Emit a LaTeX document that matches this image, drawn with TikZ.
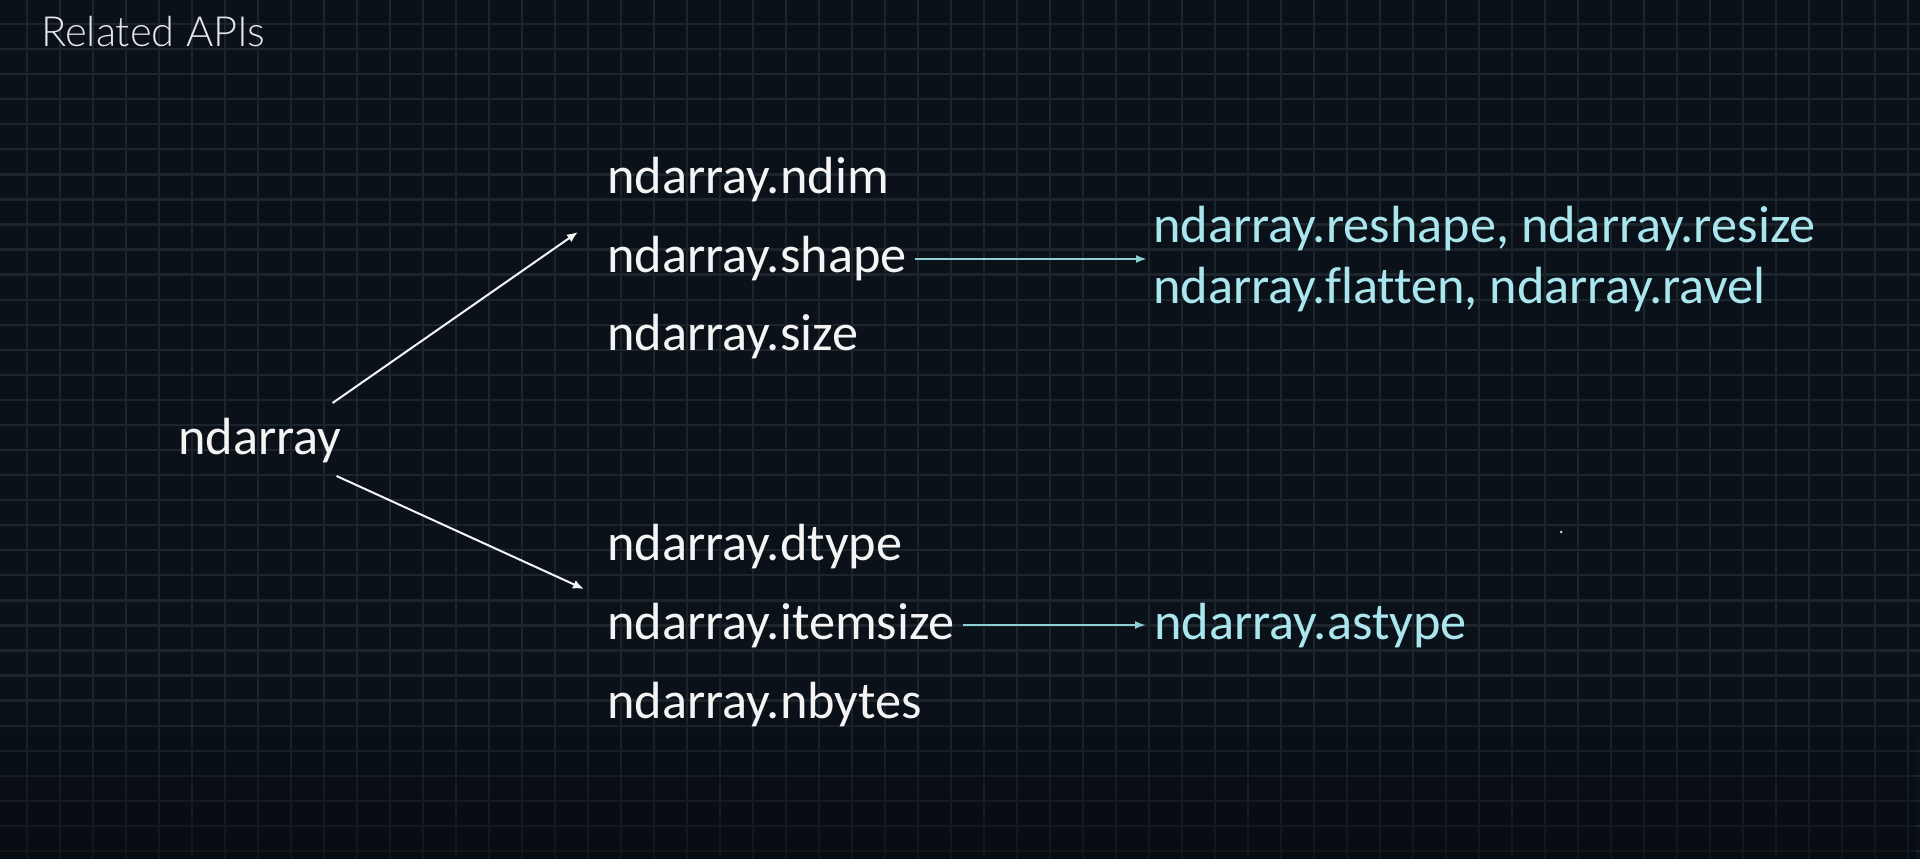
\documentclass[tikz,border=0pt]{standalone}
\usepackage{fontspec}
\setmainfont{Carlito}[Ligatures={NoCommon}]
\newfontfamily\titlefont{Lato Light}
\usetikzlibrary{arrows.meta,fadings}
\definecolor{bgtop}{HTML}{0A1118}
\definecolor{bgbot}{HTML}{04080B}
\definecolor{gridc}{HTML}{1C252C}
\definecolor{txtw}{HTML}{F4F4F4}
\definecolor{titlec}{HTML}{E6E6E6}
\definecolor{txtc}{HTML}{AAE6EE}
\definecolor{arrc}{HTML}{8CCFD6}
\tikzfading[name=fadebot, top color=transparent!100, bottom color=transparent!0]
\begin{document}
\begin{tikzpicture}[x=1pt,y=-1pt,
  lbl/.style={inner sep=0pt, anchor=base west, text=txtw, font=\fontsize{52.3}{61}\selectfont},
  rel/.style={inner sep=0pt, text=txtc, font=\fontsize{52.3}{61}\selectfont, align=left},
  warrow/.style={draw=txtw, line width=2pt, -{Latex[length=11pt,width=9pt]}},
  carrow/.style={draw=arrc, line width=2pt, -{Latex[length=11pt,width=8pt]}},
  gridline/.style={draw=gridc, line width=2.3pt}
]
\useasboundingbox (0,0) rectangle (1920,859);
\fill[bgtop] (0,0) rectangle (1920,859);
\foreach \k in {0,...,57} \draw[gridline] ({27+33*\k},0) -- ({27+33*\k},859);
\foreach \k in {0,...,33} \draw[gridline] (0,{24+25.06*\k}) -- (1920,{24+25.06*\k});
\fill[bgbot, opacity=0.5, path fading=fadebot] (0,700) rectangle (1920,859);

\node[inner sep=0pt, anchor=base west, text=titlec, font=\titlefont\fontsize{41.6}{50}\selectfont] (title) at (41,47) {Related APIs};

\node[lbl] (root) at (178,454) {ndarray};
\node[lbl] (ndim) at (607,193) {ndarray.ndim};
\node[lbl] (shape) at (607,272) {ndarray.shape};
\node[lbl] (size) at (607,350) {ndarray.size};
\node[lbl] (dtype) at (607,560) {ndarray.dtype};
\node[lbl] (itemsize) at (607,639) {ndarray.itemsize};
\node[lbl] (nbytes) at (607,718) {ndarray.nbytes};
\node[rel, anchor=west] (reshape) at (1153,259) {ndarray.reshape, ndarray.resize\\ndarray.flatten, ndarray.ravel};
\node[rel, anchor=base west] (astype) at (1154,639) {ndarray.astype};

\draw[warrow] ([xshift=-9pt,yshift=51pt]root.base east) -- ([xshift=-29pt,yshift=40pt]shape.base west);
\draw[warrow] ([xshift=-5pt,yshift=-22pt]root.base east) -- ([xshift=-23pt,yshift=50pt]itemsize.base west);
\draw[carrow] ([xshift=8pt,yshift=13pt]shape.base east) -- ([xshift=-6pt]reshape.west);
\draw[carrow] ([xshift=8pt,yshift=14pt]itemsize.base east) -- ([xshift=-8pt,yshift=14pt]astype.base west);

\fill[txtw!80!bgtop] (1561,532) circle (1.5);
\end{tikzpicture}
\end{document}
